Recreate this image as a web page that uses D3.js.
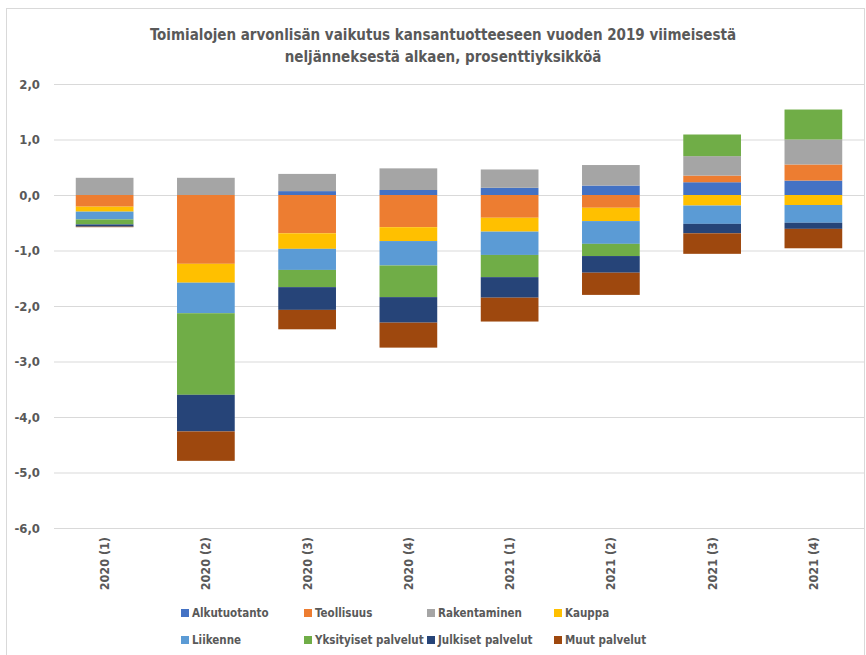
<!DOCTYPE html>
<html>
<head>
<meta charset="utf-8">
<script src="https://cdn.jsdelivr.net/npm/d3@7"></script>
<style>
  body { margin: 0; background: #fff; }
  svg text { font-family: "Liberation Sans Narrow", "DejaVu Sans Condensed", sans-serif; font-weight: bold; fill: #595959; }
</style>
</head>
<body>
<div id="chart"></div>
<script>
// quarters on the x axis
var categories = ["2020 (1)", "2020 (2)", "2020 (3)", "2020 (4)", "2021 (1)", "2021 (2)", "2021 (3)", "2021 (4)"];

// contribution of each industry, percentage points
var alkutuotanto = [0.00, 0.00, 0.07, 0.09, 0.13, 0.17, 0.23, 0.26];
var teollisuus   = [-0.21, -1.24, -0.69, -0.58, -0.41, -0.23, 0.12, 0.29];
var rakentaminen = [0.31, 0.31, 0.31, 0.39, 0.33, 0.37, 0.35, 0.45];
var kauppa       = [-0.09, -0.34, -0.28, -0.25, -0.25, -0.24, -0.19, -0.18];
var liikenne     = [-0.14, -0.55, -0.38, -0.44, -0.42, -0.41, -0.33, -0.32];
var yksityiset   = [-0.09, -1.47, -0.31, -0.57, -0.40, -0.22, 0.39, 0.54];
var julkiset     = [-0.04, -0.66, -0.41, -0.46, -0.37, -0.30, -0.17, -0.11];
var muut         = [-0.01, -0.53, -0.35, -0.45, -0.43, -0.40, -0.37, -0.35];

var seriesNames = ["Alkutuotanto", "Teollisuus", "Rakentaminen", "Kauppa", "Liikenne", "Yksityiset palvelut", "Julkiset palvelut", "Muut palvelut"];
var seriesValues = [alkutuotanto, teollisuus, rakentaminen, kauppa, liikenne, yksityiset, julkiset, muut];
var seriesColors = ["#4472C4", "#ED7D31", "#A5A5A5", "#FFC000", "#5B9BD5", "#70AD47", "#264478", "#9E480E"];

var yTicks = [2, 1, 0, -1, -2, -3, -4, -5, -6];

var W = 866, H = 655;
var plot = { left: 54, right: 864, top: 84, bottom: 528 };

// rows for d3.stack
var rows = categories.map(function(c, i) {
    var r = { cat: c };
    seriesNames.forEach(function(s, k) { r[s] = seriesValues[k][i]; });
    return r;
});

var stacked = d3.stack()
    .keys(seriesNames)
    .offset(d3.stackOffsetDiverging)(rows);

var x = d3.scaleBand()
    .domain(categories)
    .range([plot.left, plot.right])
    .paddingInner(0.43)
    .paddingOuter(0.215);

var y = d3.scaleLinear()
    .domain([-6, 2])
    .range([plot.bottom, plot.top]);

var color = d3.scaleOrdinal().domain(seriesNames).range(seriesColors);

var fi = d3.formatLocale({ decimal: ",", thousands: " ", grouping: [3], currency: ["", " €"], minus: "-" });
var fmt = fi.format(".1f");

var svg = d3.select("#chart").append("svg")
    .attr("width", W)
    .attr("height", H);

// chart area border
svg.append("rect")
    .attr("x", 6.5).attr("y", 8.5)
    .attr("width", 858).attr("height", 660)
    .attr("fill", "none")
    .attr("stroke", "#d9d9d9");

// title
var title = svg.append("text")
    .attr("text-anchor", "middle")
    .style("font-size", "15px");
title.append("tspan").attr("x", 443).attr("y", 40)
    .text("Toimialojen arvonlisän vaikutus kansantuotteeseen vuoden 2019 viimeisestä");
title.append("tspan").attr("x", 443).attr("y", 62)
    .text("neljänneksestä alkaen, prosenttiyksikköä");

// y axis with gridlines
var yAxis = svg.append("g")
    .attr("transform", "translate(" + plot.left + ",0)")
    .call(d3.axisLeft(y).tickValues(yTicks).tickFormat(fmt).tickSize(-(plot.right - plot.left)).tickPadding(14));
yAxis.select(".domain").remove();
yAxis.selectAll(".tick line").attr("stroke", "#d9d9d9");
yAxis.selectAll(".tick text")
    .style("font-size", "13px")
    .attr("fill", "#595959");

// bars
svg.append("g").selectAll("g")
    .data(stacked)
    .enter().append("g")
    .attr("fill", function(d) { return color(d.key); })
    .selectAll("rect")
    .data(function(d) { return d; })
    .enter().append("rect")
    .attr("x", function(d) { return x(d.data.cat); })
    .attr("width", x.bandwidth())
    .attr("y", function(d) { return y(Math.max(d[0], d[1])); })
    .attr("height", function(d) { return Math.abs(y(d[0]) - y(d[1])); });

// x labels (rotated)
svg.append("g").selectAll("text")
    .data(categories)
    .enter().append("text")
    .attr("transform", function(d) {
        return "translate(" + (x(d) + x.bandwidth() / 2) + "," + 537 + ") rotate(-90)";
    })
    .attr("dy", "0.35em")
    .attr("text-anchor", "end")
    .style("font-size", "12.5px")
    .text(function(d) { return d; });

// legend
var legCols = [181, 304, 427, 554];
var legRows = [613, 640];
var leg = svg.append("g").selectAll("g")
    .data(seriesNames)
    .enter().append("g")
    .attr("transform", function(d, i) {
        return "translate(" + legCols[i % 4] + "," + legRows[Math.floor(i / 4)] + ")";
    });
leg.append("rect")
    .attr("x", 0).attr("y", -4)
    .attr("width", 8).attr("height", 8)
    .attr("fill", function(d) { return color(d); });
leg.append("text")
    .attr("x", 11)
    .attr("dy", "0.35em")
    .style("font-size", "11.5px")
    .text(function(d) { return d; });
</script>
</body>
</html>
